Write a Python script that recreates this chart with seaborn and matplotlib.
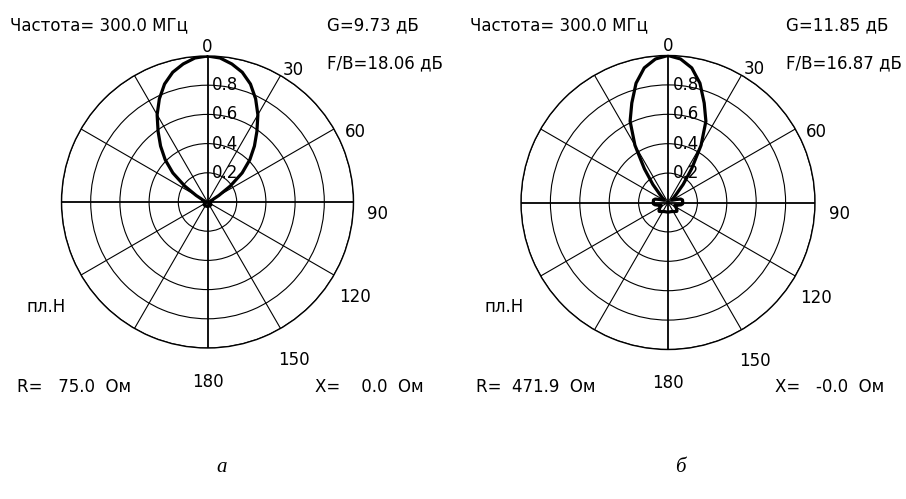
import numpy as np
import pandas as pd
import matplotlib
matplotlib.use("Agg")
import matplotlib.pyplot as plt
import seaborn as sns

# ---- data (normalized field pattern; symmetric about 0°) ----
angles_half = [0, 5, 10, 15, 20, 25, 30, 35, 40, 45, 50, 55, 60, 65, 70, 75, 80, 85, 90,
               95, 100, 105, 110, 115, 120, 125, 130, 135, 140, 145, 150, 155, 160, 165, 170, 175, 180]
pattern_a = [1.00, 0.99, 0.96, 0.92, 0.86, 0.78, 0.69, 0.59, 0.50, 0.41, 0.31, 0.19, 0.09, 0.04, 0.03, 0.03, 0.02, 0.02, 0.02,
             0.02, 0.02, 0.02, 0.02, 0.02, 0.02, 0.03, 0.03, 0.03, 0.03, 0.03, 0.03, 0.03, 0.03, 0.03, 0.03, 0.03, 0.03]
pattern_b = [1.00, 0.98, 0.93, 0.84, 0.72, 0.61, 0.45, 0.28, 0.16, 0.08, 0.05, 0.03, 0.03, 0.04, 0.06, 0.09, 0.10, 0.10, 0.10,
             0.10, 0.09, 0.07, 0.05, 0.05, 0.06, 0.07, 0.08, 0.085, 0.08, 0.075, 0.07, 0.068, 0.066, 0.065, 0.065, 0.065, 0.065]

theta_ticks = [0, 30, 60, 90, 120, 150, 180]
r_ticks = [0.2, 0.4, 0.6, 0.8]
r_tick_labels = ["0.2", "0.4", "0.6", "0.8"]

freq_text = "Частота= 300.0 МГц"
gain_texts = ["G=9.73 дБ", "G=11.85 дБ"]
fb_texts = ["F/B=18.06 дБ", "F/B=16.87 дБ"]
plane_text = "пл.Н"
r_texts = ["R=   75.0  Ом", "R=  471.9  Ом"]
x_texts = ["X=    0.0  Ом", "X=   -0.0  Ом"]
panel_labels = ["а", "б"]

sns.set_style("white")
plt.rcParams["font.family"] = ["DejaVu Sans"]
plt.rcParams["text.color"] = "black"
FS = 12

W, H = 906, 499
fig = plt.figure(figsize=(W / 100, H / 100), dpi=100)


def full_df(vals):
    deg = list(angles_half) + [360 - a for a in angles_half[::-1]]
    rr = list(vals) + list(vals[::-1])
    return pd.DataFrame({"theta": np.deg2rad(deg), "r": rr, "idx": range(len(deg))})


# axes boxes in pixels: (cx, cy, R)
boxes = [(207.5, 202.0, 146.0), (668.0, 202.5, 147.0)]
# label positions (polar angle deg, radius factor)
lab_pos = {0: (0, 1.065), 30: (33, 1.08), 60: (64.7, 1.12), 90: (94, 1.17),
           120: (122.7, 1.20), 150: (151.4, 1.23), 180: (180, 1.23)}

for i, (cx, cy, R) in enumerate(boxes):
    ax = fig.add_axes([(cx - R) / W, 1 - (cy + R) / H, 2 * R / W, 2 * R / H], projection="polar")
    ax.set_theta_zero_location("N")
    ax.set_theta_direction(-1)
    ax.set_ylim(0, 1.0)
    ax.set_thetagrids(range(0, 360, 30), labels=[""] * 12)
    ax.set_rgrids([0.2, 0.4, 0.6, 0.8, 1.0], labels=[""] * 5)
    ax.grid(True, color="black", linewidth=0.8, linestyle="-")
    for k, gl in enumerate(ax.xaxis.get_gridlines()):
        if k % 3 == 0:
            gl.set_linewidth(1.3)
    ax.spines["polar"].set_color("black")
    ax.spines["polar"].set_linewidth(1.0)
    ax.set_facecolor("white")
    ax.tick_params(pad=0, length=0)

    df = full_df(pattern_a if i == 0 else pattern_b)
    sns.lineplot(data=df, x="theta", y="r", sort=False, estimator=None, ax=ax,
                 color="black", linewidth=2.3, legend=False)
    ax.set_xlabel("")
    ax.set_ylabel("")

    for t in theta_ticks:
        a, f = lab_pos[t]
        ax.text(np.deg2rad(a), f, str(t), ha="center", va="center", fontsize=FS,
                color="black", clip_on=False)
    for r, lab in zip(r_ticks, r_tick_labels):
        ax.annotate(lab, xy=(0, r), xytext=(3.5, 0), textcoords="offset points",
                    ha="left", va="center", fontsize=FS, color="black")

# annotations (figure pixel positions)
freq_x = [10, 470]
gain_x = [327, 786]
plane_x = [27, 485]
r_x = [17, 476]
x_x = [315, 775]
for i in range(2):
    fig.text(freq_x[i] / W, 1 - 25 / H, freq_text, ha="left", va="center", fontsize=FS)
    fig.text(gain_x[i] / W, 1 - 25 / H, gain_texts[i], ha="left", va="center", fontsize=FS)
    fig.text(gain_x[i] / W, 1 - 63 / H, fb_texts[i], ha="left", va="center", fontsize=FS)
    fig.text(plane_x[i] / W, 1 - 307 / H, plane_text, ha="left", va="center", fontsize=FS)
    fig.text(r_x[i] / W, 1 - 387 / H, r_texts[i], ha="left", va="center", fontsize=FS)
    fig.text(x_x[i] / W, 1 - 387 / H, x_texts[i], ha="left", va="center", fontsize=FS)

fig.text(222 / W, 1 - 467 / H, panel_labels[0], ha="center", va="center", fontsize=15,
         family=["Liberation Serif", "DejaVu Serif"], style="italic")
fig.text(680 / W, 1 - 467 / H, panel_labels[1], ha="center", va="center", fontsize=15,
         family=["Liberation Serif", "DejaVu Serif"], style="italic")

fig.savefig("out.png", dpi=100, facecolor="white")
